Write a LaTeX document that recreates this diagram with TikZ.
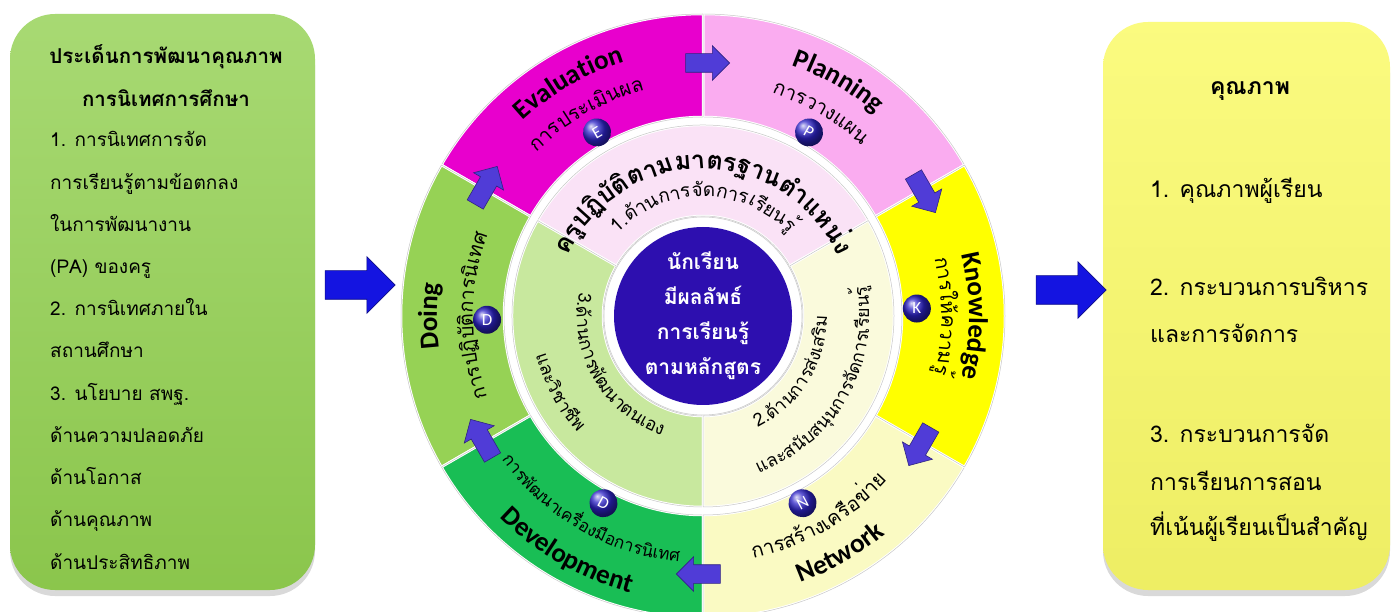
\documentclass[tikz,border=0pt]{standalone}
\usepackage{fontspec}
\newfontfamily\thaifont[Script=Thai]{Loma}
\newfontfamily\engfont{Carlito}
\usetikzlibrary{shapes.arrows,decorations.text,shadows}

% colours of the wheel
\definecolor{evalmag}{RGB}{232,0,205}
\definecolor{planpink}{RGB}{250,172,240}
\definecolor{knowyel}{RGB}{255,255,0}
\definecolor{netyel}{RGB}{250,250,195}
\definecolor{devgreen}{RGB}{25,190,85}
\definecolor{doinggreen}{RGB}{150,210,85}
\definecolor{stdpink}{RGB}{250,226,246}
\definecolor{supcream}{RGB}{250,250,220}
\definecolor{selfgreen}{RGB}{200,232,158}
\definecolor{corepurple}{RGB}{45,15,175}
\definecolor{badgeblue}{RGB}{45,35,200}
\definecolor{arrowviolet}{RGB}{80,60,215}
\definecolor{arrowblue}{RGB}{20,20,225}
% colours of the side boxes
\definecolor{issuegreen}{RGB}{146,208,80}
\definecolor{qualyel}{RGB}{250,250,105}

% fonts
\newcommand\ringeng{\engfont\bfseries\fontsize{27}{30}\selectfont}
\newcommand\ringthai{\thaifont\fontsize{20}{24}\selectfont}
\newcommand\ringthaismall{\thaifont\fontsize{17}{21}\selectfont}
\newcommand\stdtitle{\thaifont\bfseries\fontsize{25}{28}\selectfont}
\newcommand\stdthai{\thaifont\fontsize{19}{22}\selectfont}
\newcommand\sidethai{\thaifont\fontsize{18}{22}\selectfont}
\newcommand\corefont{\thaifont\bfseries\fontsize{21}{35}\selectfont}
\newcommand\issuefont{\thaifont\fontsize{19}{22}\selectfont}
\newcommand\issuehead{\thaifont\bfseries\fontsize{20.5}{24}\selectfont}
\newcommand\qualfont{\thaifont\fontsize{23}{26}\selectfont}

\tikzset{
  segment/.style={fill=#1, draw=white, line width=2.5pt, line join=round,
    postaction={draw=black!22, line width=0.5pt}},
  arctext/.style={decorate, decoration={text along path, text align=center, text={#1}}},
  badge/.style={circle, minimum size=28pt, inner sep=0pt, ball color=badgeblue,
    text=white, font=\engfont\fontsize{17}{17}\selectfont},
  cyclearrow/.style={single arrow, minimum height=44pt, inner xsep=0pt, inner ysep=9pt,
    single arrow head extend=8pt, fill=arrowviolet,
    draw=arrowviolet!60!black, line width=0.6pt},
  flowarrow/.style={single arrow, minimum height=70pt, inner xsep=0pt, inner ysep=14pt,
    single arrow head extend=14pt, fill=arrowblue,
    draw=arrowblue!60!black, line width=0.6pt},
  sidebox/.style={rounded corners=45pt, inner sep=0pt,
    drop shadow={shadow xshift=0pt, shadow yshift=-6pt, opacity=0.3}}
}

\begin{document}
\begin{tikzpicture}[x=1pt, y=1pt]
  \useasboundingbox (0,0) rectangle (1393,611);

  % Left box: issues
  \node[sidebox, minimum width=305pt, minimum height=576pt,
        top color=issuegreen!80!white, bottom color=issuegreen!95!black] (issues) at (162.5,309) {};
  \node[font=\issuehead, anchor=base] (issuetitleA) at (166,547) {ประเด็นการพัฒนาคุณภาพ};
  \node[font=\issuehead, anchor=base] (issuetitleB) at (166,504) {การนิเทศการศึกษา};
  \foreach \line [count=\i] in {1. การนิเทศการจัด, การเรียนรู้ตามข้อตกลง, ในการพัฒนางาน,
      (PA) ของครู, 2. การนิเทศภายใน, สถานศึกษา, 3. นโยบาย สพฐ., ด้านความปลอดภัย,
      ด้านโอกาส, ด้านคุณภาพ, ด้านประสิทธิภาพ}
    \node[font=\issuefont, anchor=base west, inner sep=0pt] (issue\i) at (50,464-42.2*\i+42.2) {\line};

  % Right box: quality
  \node[sidebox, minimum width=287pt, minimum height=568pt,
        top color=qualyel!85!white, bottom color=qualyel!95!black] (quality) at (1246.5,305) {};
  \node[font=\qualfont\bfseries, anchor=base] (qualtitle) at (1250,516) {คุณภาพ};
  \node[font=\qualfont, anchor=base west, inner sep=0pt] (qual1) at (1150,413) {1. คุณภาพผู้เรียน};
  \node[font=\qualfont, anchor=base west, inner sep=0pt] (qual2) at (1150,315) {2. กระบวนการบริหาร};
  \node[font=\qualfont, anchor=base west, inner sep=0pt] (qual2b) at (1150,268) {และการจัดการ};
  \node[font=\qualfont, anchor=base west, inner sep=0pt] (qual3) at (1150,168) {3. กระบวนการจัด};
  \node[font=\qualfont, anchor=base west, inner sep=0pt] (qual3b) at (1150,120) {การเรียนการสอน};
  \node[font=\qualfont, anchor=base west, inner sep=0pt] (qual3c) at (1150,75) {ที่เน้นผู้เรียนเป็นสำคัญ};

  % Flow arrows
  \node[flowarrow] (inarrow) at (353,326) {};
  \node[flowarrow] (outarrow) at (1064,321) {};

  \begin{scope}[shift={(703,295)}]
    % Outer ring
    \path[segment=planpink] (30:302) arc[start angle=30, end angle=90, radius=302]
      -- (90:199) arc[start angle=90, end angle=30, radius=199] -- cycle;
    \path[segment=evalmag] (90:302) arc[start angle=90, end angle=150, radius=302]
      -- (150:199) arc[start angle=150, end angle=90, radius=199] -- cycle;
    \path[segment=doinggreen] (150:302) arc[start angle=150, end angle=210, radius=302]
      -- (210:199) arc[start angle=210, end angle=150, radius=199] -- cycle;
    \path[segment=devgreen] (210:302) arc[start angle=210, end angle=270, radius=302]
      -- (270:199) arc[start angle=270, end angle=210, radius=199] -- cycle;
    \path[segment=netyel] (270:302) arc[start angle=270, end angle=330, radius=302]
      -- (330:199) arc[start angle=330, end angle=270, radius=199] -- cycle;
    \path[segment=knowyel] (-30:302) arc[start angle=-30, end angle=30, radius=302]
      -- (30:199) arc[start angle=30, end angle=-30, radius=199] -- cycle;

    % Inner ring
    \path[segment=stdpink] (30:191) arc[start angle=30, end angle=150, radius=191]
      -- (150:100) arc[start angle=150, end angle=30, radius=100] -- cycle;
    \path[segment=selfgreen] (150:191) arc[start angle=150, end angle=270, radius=191]
      -- (270:100) arc[start angle=270, end angle=150, radius=100] -- cycle;
    \path[segment=supcream] (270:191) arc[start angle=270, end angle=390, radius=191]
      -- (390:100) arc[start angle=390, end angle=270, radius=100] -- cycle;

    % Core
    \draw[gray!40, line width=0.6pt] (0,0) circle[radius=99];
    \node[circle, fill=corepurple, minimum size=178pt, inner sep=0pt, text=white,
          align=center, font=\corefont] (core) at (0,0) {นักเรียน\\มีผลลัพธ์\\การเรียนรู้\\ตามหลักสูตร};

    % Outer labels
    \path[arctext={|\ringeng|Evaluation}] (165:266) arc[start angle=165, end angle=75, radius=266];
    \path[arctext={|\ringthai|{การ}{ประ}{เมิน}{ผล}}] (165:233) arc[start angle=165, end angle=75, radius=233];
    \path[arctext={|\ringeng|Planning}] (105:266) arc[start angle=105, end angle=15, radius=266];
    \path[arctext={|\ringthai|{การ}{วาง}{แผน}}] (105:233) arc[start angle=105, end angle=15, radius=233];
    \path[arctext={|\ringeng|Knowledge}] (45:266) arc[start angle=45, end angle=-45, radius=266];
    \path[arctext={|\ringthai|{การ}{ให้}{ความ}{รู้}}] (45:238) arc[start angle=45, end angle=-45, radius=238];
    \path[arctext={|\ringeng|Network}] (-105:284) arc[start angle=-105, end angle=-15, radius=284];
    \path[arctext={|\ringthai|{การ}{สร้าง}{เครือ}{ข่าย}}] (-105:247) arc[start angle=-105, end angle=-15, radius=247];
    \path[arctext={|\ringeng|Development}] (195:286) arc[start angle=195, end angle=285, radius=286];
    \path[arctext={|\ringthaismall|{การ}{พัฒ}{นา}{เครื่อง}{มือ}{การ}{นิ}{เทศ}}] (190:247) arc[start angle=190, end angle=290, radius=247];
    \path[arctext={|\ringeng|Doing}] (225:266) arc[start angle=225, end angle=135, radius=266];
    \path[arctext={|\ringthai|{การ}{ปฏิ}{บัติ}{การ}{นิ}{เทศ}}] (225:230) arc[start angle=225, end angle=135, radius=230];

    % Inner labels
    \path[arctext={|\stdtitle|{ครู}{ปฏิ}{บัติ}{ตาม}{มา}{ตร}{ฐาน}{ตำ}{แหน่ง}}] (178:147) arc[start angle=178, end angle=2, radius=147];
    \path[arctext={|\stdthai|{1.}{ด้าน}{การ}{จัด}{การ}{เรียน}{รู้}}] (170:119) arc[start angle=170, end angle=10, radius=119];
    \path[arctext={|\sidethai|{2.}{ด้าน}{การ}{ส่ง}{เสริม}}] (-92:124) arc[start angle=-92, end angle=28, radius=124];
    \path[arctext={|\sidethai|{และ}{สนับ}{สนุน}{การ}{จัด}{การ}{เรียน}{รู้}}] (-90:166) arc[start angle=-90, end angle=30, radius=166];
    \path[arctext={|\sidethai|{3.}{ด้าน}{การ}{พัฒ}{นา}{ตน}{เอง}}] (150:126) arc[start angle=150, end angle=270, radius=126];
    \path[arctext={|\sidethai|{และ}{วิชา}{ชีพ}}] (148:171) arc[start angle=148, end angle=268, radius=171];

    % Badges
    \node[badge, rotate=30] (badgeE) at (120:212) {E};
    \node[badge, rotate=-30] (badgeP) at (60:212) {P};
    \node[badge] (badgeK) at (2:214) {K};
    \node[badge, rotate=28] (badgeN) at (-62:212) {N};
    \node[badge, rotate=-28] (badgeDev) at (242:212) {D};
    \node[badge] (badgeDo) at (181:216) {D};

    % Cycle arrows
    \node[cyclearrow, rotate=0] (cycEP) at (90:253) {};
    \node[cyclearrow, rotate=-60] (cycPK) at (30:253) {};
    \node[cyclearrow, rotate=-120] (cycKN) at (-30:253) {};
    \node[cyclearrow, rotate=180] (cycND) at (-90:258) {};
    \node[cyclearrow, rotate=120] (cycDD) at (210:253) {};
    \node[cyclearrow, rotate=60] (cycDE) at (150:253) {};
  \end{scope}
\end{tikzpicture}
\end{document}
